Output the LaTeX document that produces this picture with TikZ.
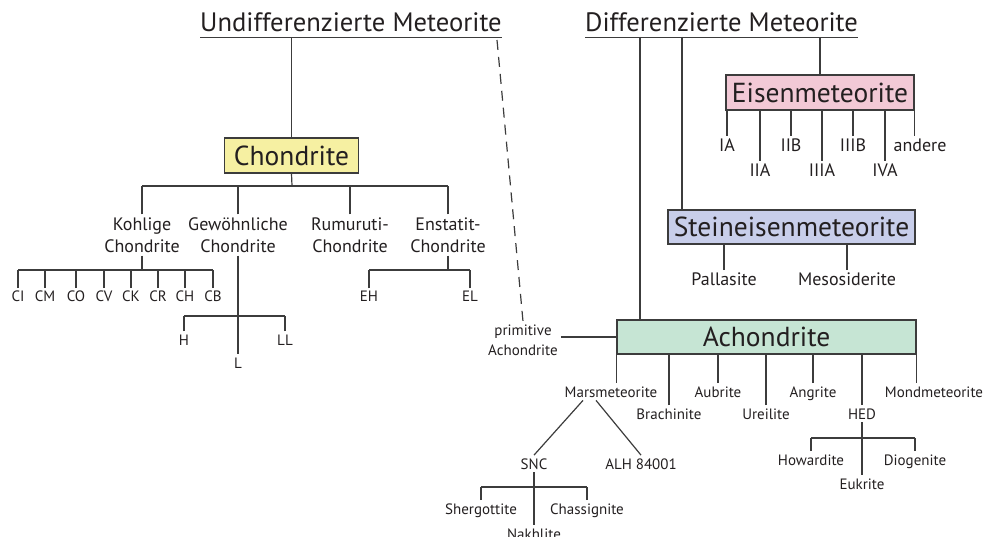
\documentclass[tikz,border=0pt]{standalone}
\usepackage{fontspec}
\setmainfont{PT Sans}
\definecolor{ink}{HTML}{231F20}
\definecolor{linegray}{HTML}{3C3C3C}
\definecolor{chonfill}{HTML}{F6F0A2}
\definecolor{eisenfill}{HTML}{F2C9D6}
\definecolor{steinfill}{HTML}{C8CEEA}
\definecolor{achonfill}{HTML}{C6E5D4}
\tikzset{
  title/.style={font=\fontsize{26.6}{30}\selectfont,text=ink,inner xsep=0pt,inner ysep=5pt,anchor=base west},
  box/.style={draw=linegray,line width=1.3pt,font=\fontsize{27.5}{30}\selectfont,text=ink,inner sep=0pt},
  mid/.style={font=\fontsize{18}{22}\selectfont,text=ink,inner sep=3pt,anchor=base},
  midtwo/.style={font=\fontsize{18}{22}\selectfont,text=ink,inner sep=3pt,align=center},
  small/.style={font=\fontsize{15}{20}\selectfont,text=ink,inner sep=3pt,anchor=base},
  ln/.style={draw=linegray,line width=1.2pt}
}
\begin{document}
\begin{tikzpicture}[x=1pt,y=-1pt]
  \useasboundingbox (0,0) rectangle (988,537);
  % titles
  \node[title] (udm) at (200,32) {Undifferenzierte Meteorite};
  \node[title] (dm) at (585,32) {Differenzierte Meteorite};
  \draw[ln] (udm.south west) -- (udm.south east);
  \draw[ln] (dm.south west) -- (dm.south east);

  % boxes
  \node[box,fill=chonfill,minimum width=134pt,minimum height=35pt] (chon) at (291.5,155.5) {Chondrite};
  \node[box,fill=eisenfill,minimum width=188pt,minimum height=35pt] (eisen) at (820,92.5) {Eisenmeteorite};
  \node[box,fill=steinfill,minimum width=247pt,minimum height=34pt] (stein) at (791.5,227) {Steineisenmeteorite};
  \node[box,fill=achonfill,minimum width=299pt,minimum height=34pt] (achon) at (766.5,337) {Achondrite};

  % undifferenzierte
  \draw[ln] (chon.north) -- (chon.north |- udm.south);
  \coordinate (dstart) at (497,40);
  \node[small,anchor=center,align=center] (prim) at (523,340) {primitive\\Achondrite};
  \draw[ln,dash pattern=on 10pt off 7pt] (dstart) -- (prim.north);
  \draw[ln] (prim.east |- achon.west) -- (achon.west);

  % chondrite groups
  \node[midtwo] (kohl) at (142,235) {Kohlige\\Chondrite};
  \node[midtwo] (gew) at (238,235) {Gewöhnliche\\Chondrite};
  \node[midtwo] (rum) at (350,235) {Rumuruti-\\Chondrite};
  \node[midtwo] (enst) at (448,235) {Enstatit-\\Chondrite};
  \coordinate (cbar) at (292,186);
  \draw[ln] (chon.south) -- (cbar);
  \draw[ln] (kohl.north |- cbar) -- (enst.north |- cbar);
  \foreach \n in {kohl,gew,rum,enst}
    \draw[ln] (\n.north) -- (\n.north |- cbar);

  % kohlige
  \foreach \n/\x in {CI/18,CM/45,CO/76,CV/104,CK/131,CR/158,CH/185,CB/213}
    \node[small] (\n) at (\x,302) {\n};
  \coordinate (kbar) at (142,270);
  \draw[ln] (kohl.south) -- (kbar);
  \draw[ln] (CI.north |- kbar) -- (CB.north |- kbar);
  \foreach \n in {CI,CM,CO,CV,CK,CR,CH,CB}
    \draw[ln] (\n.north) -- (\n.north |- kbar);

  % gewoehnliche
  \node[small] (h) at (184,345) {H};
  \node[small] (ll) at (285,345) {LL};
  \node[small] (l) at (238,368) {L};
  \coordinate (gbar) at (238,316);
  \draw[ln] (gew.south) -- (l.north);
  \draw[ln] (h.north |- gbar) -- (ll.north |- gbar);
  \draw[ln] (h.north) -- (h.north |- gbar);
  \draw[ln] (ll.north) -- (ll.north |- gbar);

  % enstatit
  \node[small] (eh) at (369,302) {EH};
  \node[small] (el) at (470,302) {EL};
  \coordinate (ebar) at (448,270);
  \draw[ln] (enst.south) -- (ebar);
  \draw[ln] (eh.north |- ebar) -- (el.north |- ebar);
  \draw[ln] (eh.north) -- (eh.north |- ebar);
  \draw[ln] (el.north) -- (el.north |- ebar);

  % differenzierte
  \coordinate (dachon) at (640,37);
  \coordinate (dstein) at (682,37);
  \draw[ln] (dachon) -- (dachon |- achon.north);
  \draw[ln] (dstein) -- (dstein |- stein.north);
  \draw[ln] (eisen.north) -- (eisen.north |- dm.south);

  % eisenmeteorite
  \foreach \n/\t/\x/\y in {ia/IA/727/152,iia/IIA/760/177,iib/IIB/791/152,iiia/IIIA/822/177,iiib/IIIB/853/152,iva/IVA/885/177}{
    \node[mid] (\n) at (\x,\y) {\t};
    \draw[ln] (\n.north) -- (\n.north |- eisen.south);
  }
  \node[mid] (andere) at (920,152) {andere};
  \draw[ln] (eisen.south east) -- (eisen.south east |- andere.north);

  % steineisen
  \node[mid] (pall) at (724,286) {Pallasite};
  \node[mid] (meso) at (847,286) {Mesosiderite};
  \draw[ln] (pall.north) -- (pall.north |- stein.south);
  \draw[ln] (meso.north) -- (meso.north |- stein.south);

  % achondrite
  \node[small] (mars) at (611,397) {Marsmeteorite};
  \node[small] (brach) at (669,419) {Brachinite};
  \node[small] (aub) at (718,397) {Aubrite};
  \node[small] (ure) at (766,419) {Ureilite};
  \node[small] (ang) at (813,397) {Angrite};
  \node[small] (hed) at (862,419) {HED};
  \node[small] (mond) at (934,397) {Mondmeteorite};
  \draw[ln] (achon.south west) -- (achon.south west |- mars.north);
  \foreach \n in {brach,aub,ure,ang,hed}
    \draw[ln] (\n.north) -- (\n.north |- achon.south);
  \draw[ln] (achon.south east) -- (achon.south east |- mond.north);

  % mars
  \node[small] (snc) at (534,469) {SNC};
  \node[small] (alh) at (641,469) {ALH 84001};
  \draw[ln] ([xshift=-28pt]mars.south) -- (snc.north);
  \draw[ln] ([xshift=-15pt]mars.south) -- (alh.north);
  \node[small] (sher) at (481,514) {Shergottite};
  \node[small] (chas) at (587,514) {Chassignite};
  \node[small] (nak) at (534,539) {Nakhlite};
  \coordinate (sbar) at (534,487);
  \draw[ln] (snc.south) -- (nak.north);
  \draw[ln] (sher.north |- sbar) -- (chas.north |- sbar);
  \draw[ln] (sher.north) -- (sher.north |- sbar);
  \draw[ln] (chas.north) -- (chas.north |- sbar);

  % hed
  \node[small] (how) at (811,465) {Howardite};
  \node[small] (dio) at (915,465) {Diogenite};
  \node[small] (euk) at (862,489) {Eukrite};
  \coordinate (hbar) at (862,438);
  \draw[ln] (hed.south) -- (euk.north);
  \draw[ln] (how.north |- hbar) -- (dio.north |- hbar);
  \draw[ln] (how.north) -- (how.north |- hbar);
  \draw[ln] (dio.north) -- (dio.north |- hbar);
\end{tikzpicture}
\end{document}
